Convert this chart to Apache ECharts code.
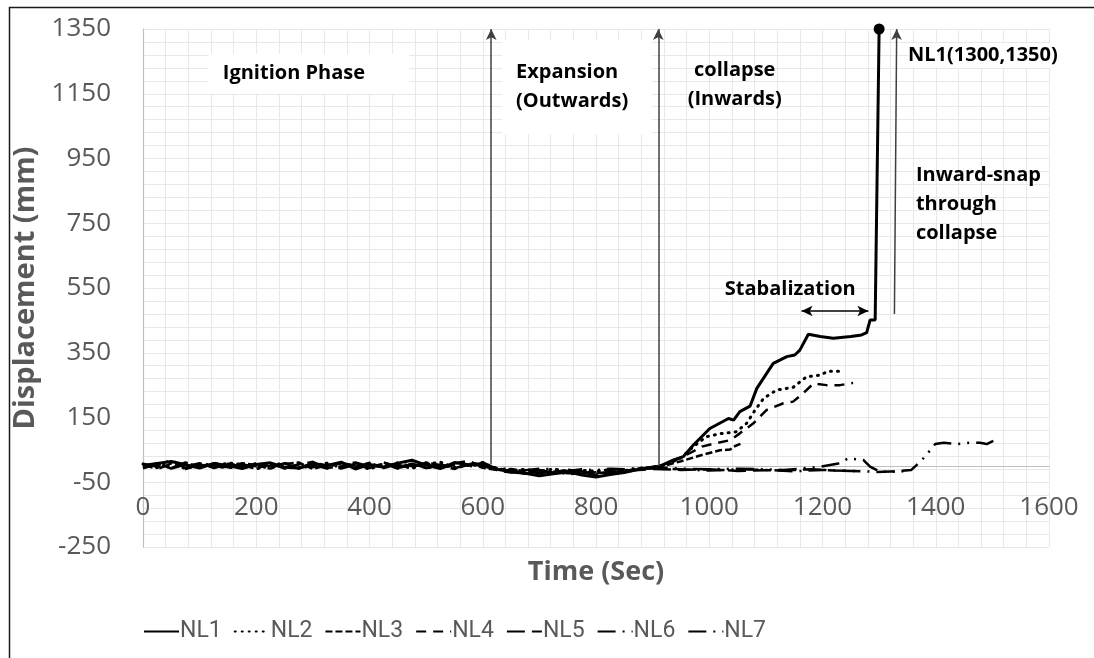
<!DOCTYPE html>
<html>
<head>
<meta charset="utf-8">
<script src="https://cdn.jsdelivr.net/npm/echarts@6/dist/echarts.min.js"></script>
<style>
  html, body { margin: 0; padding: 0; background: #fff; }
  #chart { width: 1094px; height: 658px; }
</style>
</head>
<body>
<div id="chart"></div>
<script>
// Time axis shared by the early (ignition) part of every gauge, seconds
const tEarly = [0, 25, 50, 75, 100, 125, 150, 175, 200, 225, 250, 275, 300, 325, 350, 375, 400, 425,
  450, 475, 500, 525, 550, 575, 600, 625, 650, 675, 700, 725, 750, 775, 800, 825, 850, 875, 900];

// Displacement (mm) of each gauge over tEarly
const nl1Early = [2, 8, 14, 4, -6, 8, 2, -8, 5, 10, -4, -6, 8, 2, 12, -9, 5, -3, 9, 18, 3, -8, 11, 4, 8, -10, -18, -22, -30, -24, -18, -28, -34, -26, -20, -10, -4];
const nl2Early = [6, -5, 9, -8, 3, -2, 10, 5, -9, 4, 8, -6, 1, 9, -4, 6, -10, 8, 3, -7, 6, 12, -5, 2, 10, -8, -14, -10, -17, -9, -18, -13, -16, -11, -14, -8, -3];
const nl3Early = [-7, 6, -6, 11, -4, 8, -6, 9, 3, -8, 6, 11, -9, 3, 8, -2, 10, -6, 5, -4, 11, 3, -9, 8, -5, -12, -9, -16, -13, -20, -11, -16, -22, -18, -15, -8, -6];
const nl4Early = [4, -9, 7, -1, 9, -6, 5, 3, -8, 8, -4, 5, 13, -6, -1, 9, -4, 7, -8, 5, -6, -1, 8, 16, -3, -7, -16, -24, -19, -13, -26, -20, -28, -24, -18, -10, -5];
const nl5Early = [-5, 9, -8, 5, -2, 11, -4, -6, 9, -1, 7, -8, 5, -4, 9, 2, -6, 11, -2, 7, -4, 5, -6, 3, 12, -13, -20, -15, -22, -17, -22, -24, -19, -22, -15, -12, -9];
const nl6Early = [7, -2, 20, -6, 7, 2, -8, 5, -1, -6, 9, 3, -4, 7, -8, 5, 2, -4, 11, -1, 7, -6, 3, 9, -1, -9, -15, -20, -12, -22, -15, -17, -24, -15, -19, -11, -7];
const nl7Early = [-3, 5, 3, -9, 5, -4, 7, -1, 5, 9, -8, 3, 5, -8, 3, 11, -1, 5, -6, 3, 9, -4, 5, -1, 5, -6, -10, -13, -8, -10, -15, -10, -13, -8, -10, -6, -3];

// Later readings as [time, displacement] pairs
const nl1Late = [[913, 0], [937, 19], [954, 29], [972, 65], [1001, 116], [1034, 147], [1043, 142], [1054, 168],
  [1072, 185], [1084, 240], [1113, 317], [1137, 338], [1151, 343], [1160, 358], [1175, 407], [1196, 400],
  [1219, 395], [1250, 400], [1269, 405], [1278, 412], [1284, 451], [1293, 451], [1300, 1350]];
const nl2Late = [[925, 5], [950, 25], [972, 60], [995, 91], [1020, 100], [1048, 106], [1066, 132], [1081, 173],
  [1096, 209], [1119, 235], [1148, 243], [1172, 276], [1196, 281], [1210, 293], [1231, 293]];
const nl3Late = [[925, 3], [950, 15], [987, 34], [1019, 49], [1037, 51], [1043, 60], [1060, 72]];
const nl4Late = [[925, 5], [955, 30], [987, 60], [1010, 70], [1037, 80], [1054, 101], [1078, 132], [1101, 173],
  [1131, 194], [1148, 199], [1166, 225], [1184, 255], [1207, 250], [1231, 250], [1254, 257]];
const nl5Late = [[950, -12], [1000, -10], [1050, -15], [1100, -13], [1150, -12], [1180, -10], [1220, -14], [1257, -15]];
const nl6Late = [[950, -10], [1000, -14], [1050, -10], [1100, -12], [1150, -16], [1200, -12], [1250, -15],
  [1296, -18], [1320, -17], [1346, -16]];
const nl7Late = [[950, -8], [1000, -10], [1050, -8], [1100, -10], [1131, -12], [1160, -8], [1196, -2], [1228, 8],
  [1246, 24], [1260, 21], [1272, 19], [1284, -2], [1302, -18], [1325, -17], [1357, -12], [1366, 3], [1381, 29],
  [1399, 68], [1414, 72], [1437, 68], [1460, 72], [1478, 72], [1490, 68], [1502, 78]];

const seriesNames = ['NL1', 'NL2', 'NL3', 'NL4', 'NL5', 'NL6', 'NL7'];
const earlyValues = [nl1Early, nl2Early, nl3Early, nl4Early, nl5Early, nl6Early, nl7Early];
const lateValues = [nl1Late, nl2Late, nl3Late, nl4Late, nl5Late, nl6Late, nl7Late];

// Axis ranges and steps
const xMin = 0, xMax = 1600, xStep = 200;
const yMin = -250, yMax = 1350, yStep = 200;

// Phase markers
const phaseArrows = [[615, 5], [615, 1350], [910, 0], [910, 1350], [1327, 470], [1331, 1350]];
const stabalizationSpan = [[1163, 479], [1281, 479]];
const collapsePoint = [1300, 1350];

// Dash patterns in the style of the Excel presets (sysDot, sysDash, dash, lgDash, lgDashDot, lgDashDotDot)
const dashTypes = ['solid', [1, 6], [7, 3], [10, 7], [18, 7], [18, 7, 2, 7], [18, 7, 2, 7, 2, 7]];
const lineWidths = [3, 3, 2.5, 2.5, 2.5, 2.5, 2.5];

const FONT = 'Open Sans';
const labelFont = { fontFamily: FONT, fontSize: 20, fontWeight: 'bold', color: '#000' };

function buildData(i) {
  return earlyValues[i].map((v, k) => [tEarly[k], v]).concat(lateValues[i]);
}

function note(coord, text, extra) {
  return {
    coord: coord, symbol: 'circle', symbolSize: 0,
    label: Object.assign({ show: true, formatter: text, lineHeight: 29 }, labelFont, extra || {})
  };
}

const arrowLine = { color: '#404040', width: 1.5, type: 'solid' };

const series = seriesNames.map((name, i) => {
  const s = {
    name: name,
    type: 'line',
    symbol: 'none',
    data: buildData(i),
    lineStyle: { color: '#000', width: lineWidths[i], type: dashTypes[i], cap: i === 1 ? 'round' : 'butt' },
    itemStyle: { color: '#000' },
    z: 3
  };
  if (i === 0) {
    s.markLine = {
      silent: true,
      symbol: ['none', 'arrow'],
      symbolSize: [8, 11],
      label: { show: false },
      lineStyle: arrowLine,
      data: [
        [{ coord: phaseArrows[0] }, { coord: phaseArrows[1] }],
        [{ coord: phaseArrows[2] }, { coord: phaseArrows[3] }],
        [{ coord: phaseArrows[4] }, { coord: phaseArrows[5] }],
        [{ coord: stabalizationSpan[0], symbol: 'arrow' }, { coord: stabalizationSpan[1], symbol: 'arrow',
          lineStyle: { color: '#000', width: 1.5, type: 'solid' } }]
      ]
    };
    s.markPoint = {
      silent: true,
      data: [
        { coord: collapsePoint, symbol: 'circle', symbolSize: 11, itemStyle: { color: '#000' }, label: { show: false } },
        note([293, 1212], 'Ignition Phase', { backgroundColor: '#fff', padding: [9, 44, 2, 14] }),
        note([634, 1171], 'Expansion\n(Outwards)', { align: 'left', backgroundColor: '#fff', padding: [13, 24, 23, 14] }),
        note([1045, 1177], 'collapse\n(Inwards)'),
        note([1351, 1268], 'NL1(1300,1350)', { align: 'left', backgroundColor: '#fff', lineHeight: 24 }),
        note([1365, 810], 'Inward-snap\nthrough\ncollapse', { align: 'left' }),
        note([1143, 546], 'Stabalization')
      ]
    };
  }
  return s;
});

const gridColor = '#e8e8e8';
const textGrey = '#595959';
const plainNumber = v => String(v);

const chart = echarts.init(document.getElementById('chart'), null, { renderer: 'canvas' });
chart.setOption({
  animation: false,
  backgroundColor: '#fff',
  textStyle: { fontFamily: FONT },
  grid: { left: 143, right: 45, top: 29, bottom: 111, containLabel: false, outerBoundsMode: 'none' },
  graphic: [{
    type: 'rect', silent: true, z: 100,
    shape: { x: 9.5, y: 7.5, width: 1200, height: 800 },
    style: { fill: 'none', stroke: '#1a1a1a', lineWidth: 1.5 }
  }],
  legend: {
    data: seriesNames,
    left: 143, top: 620, padding: 0,
    itemWidth: 35, itemHeight: 14, itemGap: 12,
    itemStyle: { opacity: 0 },
    textStyle: { fontFamily: 'Roboto', fontSize: 23, color: textGrey, padding: [0, 0, 0, -4] }
  },
  xAxis: {
    type: 'value', min: xMin, max: xMax, interval: xStep,
    name: 'Time (Sec)', nameLocation: 'middle', nameGap: 12,
    nameTextStyle: { fontFamily: FONT, fontSize: 27, fontWeight: 'bold', color: textGrey },
    axisLine: { show: true, onZero: true, lineStyle: { color: '#bfbfbf', width: 1.2 } },
    axisTick: { show: false },
    axisLabel: { fontFamily: FONT, fontSize: 26, color: textGrey, margin: -52, formatter: plainNumber },
    splitLine: { show: true, lineStyle: { color: gridColor, width: 1 } },
    minorTick: { show: false, splitNumber: 5 },
    minorSplitLine: { show: true, lineStyle: { color: gridColor, width: 1 } }
  },
  yAxis: {
    type: 'value', min: yMin, max: yMax, interval: yStep,
    name: 'Displacement (mm)', nameLocation: 'middle', nameGap: 88,
    nameTextStyle: { fontFamily: FONT, fontSize: 29, fontWeight: 'bold', color: textGrey },
    axisLine: { show: true, lineStyle: { color: '#bfbfbf', width: 1.2 } },
    axisTick: { show: false },
    axisLabel: { fontFamily: FONT, fontSize: 26, color: textGrey, margin: 32, formatter: plainNumber },
    splitLine: { show: true, lineStyle: { color: gridColor, width: 1 } },
    minorTick: { show: false, splitNumber: 5 },
    minorSplitLine: { show: true, lineStyle: { color: gridColor, width: 1 } }
  },
  series: series
});
</script>
</body>
</html>
